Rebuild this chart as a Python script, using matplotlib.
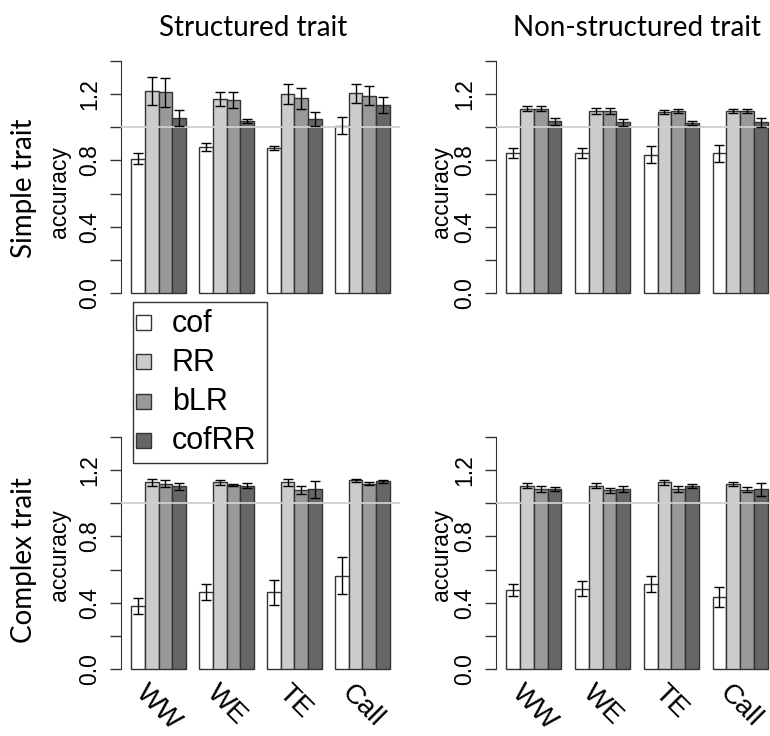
import numpy as np
import matplotlib
matplotlib.use("Agg")
import matplotlib.pyplot as plt
from matplotlib.patches import Rectangle

# data (accuracy)
groups = ["WW", "WE", "TE", "Call"]
methods = ["cof", "RR", "bLR", "cofRR"]
colors = ["#ffffff", "#cccccc", "#999999", "#666666"]

simple_struct_mean = [
    [0.81, 0.88, 0.875, 1.01],
    [1.22, 1.17, 1.20, 1.205],
    [1.21, 1.165, 1.175, 1.19],
    [1.055, 1.035, 1.05, 1.135],
]
simple_struct_err = [
    [0.033, 0.024, 0.013, 0.05],
    [0.085, 0.044, 0.062, 0.058],
    [0.085, 0.046, 0.065, 0.058],
    [0.048, 0.012, 0.042, 0.05],
]

simple_nonstruct_mean = [
    [0.846, 0.846, 0.834, 0.842],
    [1.113, 1.099, 1.093, 1.099],
    [1.113, 1.099, 1.099, 1.099],
    [1.035, 1.029, 1.023, 1.029],
]
simple_nonstruct_err = [
    [0.03, 0.029, 0.052, 0.049],
    [0.016, 0.017, 0.014, 0.014],
    [0.016, 0.016, 0.014, 0.014],
    [0.02, 0.02, 0.012, 0.027],
]

complex_struct_mean = [
    [0.382, 0.463, 0.463, 0.563],
    [1.127, 1.127, 1.127, 1.139],
    [1.118, 1.110, 1.082, 1.118],
    [1.102, 1.106, 1.084, 1.133],
]
complex_struct_err = [
    [0.048, 0.047, 0.076, 0.11],
    [0.022, 0.016, 0.02, 0.008],
    [0.022, 0.008, 0.024, 0.01],
    [0.02, 0.016, 0.05, 0.01],
]

complex_nonstruct_mean = [
    [0.479, 0.485, 0.515, 0.435],
    [1.106, 1.106, 1.127, 1.118],
    [1.086, 1.078, 1.086, 1.082],
    [1.086, 1.086, 1.106, 1.084],
]
complex_nonstruct_err = [
    [0.036, 0.044, 0.048, 0.06],
    [0.016, 0.016, 0.014, 0.012],
    [0.016, 0.016, 0.018, 0.016],
    [0.014, 0.018, 0.012, 0.04],
]

W, H = 770, 736
TICK_FONT = "Liberation Sans"
TITLE_FONT = "Lato"


def fx(x):
    return x / W


def fy(y):
    return 1 - y / H


def panel(rect, means, errs, show_xlabels=False):
    left, top, right, bottom = rect
    ax = fig.add_axes([fx(left), fy(bottom), fx(right - left), (bottom - top) / H])
    ax.patch.set_alpha(0)
    for i, m in enumerate(methods):
        x = [1.5 + 5 * g + i for g in range(len(groups))]
        ax.bar(x, means[i], width=1.0, color=colors[i], edgecolor="#333333",
               linewidth=1.0, zorder=2)
        ax.errorbar(x, means[i], yerr=errs[i], fmt="none", ecolor="black",
                    elinewidth=1.0, capsize=3.8, capthick=1.0, zorder=4)
    ax.axhline(1.0, color="#cfcfcf", lw=1.3, zorder=3)
    ax.set_xlim(0.24, 20.76)
    ax.set_ylim(-0.056, 1.456)
    for s in ["top", "right", "bottom"]:
        ax.spines[s].set_visible(False)
    ax.spines["left"].set_bounds(0, 1.4)
    ax.spines["left"].set_color("#333333")
    ax.set_yticks(np.arange(0, 1.41, 0.2))
    ax.set_yticklabels(["0.0", "", "0.4", "", "0.8", "", "1.2", ""],
                       rotation=90, va="center", fontsize=16.5, family=TICK_FONT)
    ax.tick_params(axis="y", length=8, width=1, color="#333333", pad=6)
    centers = [3 + 5 * g for g in range(len(groups))]
    ax.set_xticks(centers)
    if show_xlabels:
        ax.set_xticklabels(groups, rotation=-45, ha="center", va="top",
                           fontsize=20, family=TICK_FONT)
        ax.tick_params(axis="x", length=0, pad=1)
    else:
        ax.set_xticklabels([])
        ax.tick_params(axis="x", length=0)
    return ax


fig = plt.figure(figsize=(7.7, 7.36), dpi=100)

panel((121, 51.7, 400, 302.3), simple_struct_mean, simple_struct_err)
panel((496, 51.7, 778, 302.3), simple_nonstruct_mean, simple_nonstruct_err)
panel((121, 427.7, 400, 678.3), complex_struct_mean, complex_struct_err, True)
panel((496, 427.7, 778, 678.3), complex_nonstruct_mean, complex_nonstruct_err, True)

# column titles and row labels
fig.text(fx(253), fy(28), "Structured trait", ha="center", va="center",
         fontsize=20, family=TITLE_FONT)
fig.text(fx(637), fy(28), "Non-structured trait", ha="center", va="center",
         fontsize=20, family=TITLE_FONT)
fig.text(fx(24), fy(188), "Simple trait", rotation=90, ha="center", va="center",
         fontsize=20, family=TITLE_FONT)
fig.text(fx(24), fy(560), "Complex trait", rotation=90, ha="center", va="center",
         fontsize=20, family=TITLE_FONT)

for xpos, ypos in [(60, 192), (442, 192), (60, 555), (442, 555)]:
    fig.text(fx(xpos), fy(ypos), "accuracy", rotation=90, ha="center",
             va="center", fontsize=16.5, family=TICK_FONT)

# legend box drawn in figure pixels
fig.patches.append(Rectangle((fx(133), fy(463)), fx(267 - 133), (463 - 302) / H,
                             transform=fig.transFigure, facecolor="white",
                             edgecolor="#333333", lw=1.0, zorder=10))
for i, m in enumerate(methods):
    yc = 322.5 + 39.3 * i
    fig.patches.append(Rectangle((fx(136), fy(yc + 7.5)), fx(15), 15 / H,
                                 transform=fig.transFigure, facecolor=colors[i],
                                 edgecolor="#333333", lw=1.0, zorder=11))
    fig.text(fx(172), fy(yc + 1), m, ha="left", va="center", fontsize=22,
             family=TICK_FONT, zorder=12)

fig.savefig("out.png", dpi=100)
